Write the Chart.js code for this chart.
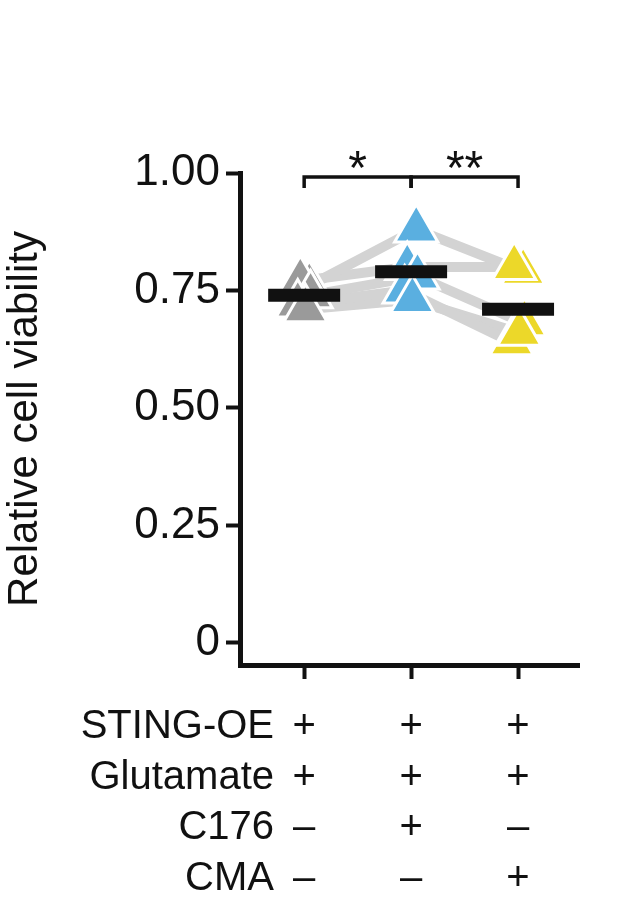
<!DOCTYPE html><html><head><meta charset="utf-8"><script src="https://cdn.jsdelivr.net/npm/chart.js@4"></script>
<style>body{margin:0;background:#fff}</style></head><body><canvas id="c" width="628" height="917"></canvas>
<script>
const groups=[1,2,3];
const rowLabels=["STING-OE","Glutamate","C176","CMA"];
const rowSigns=[["+","+","+"],["+","+","+"],["\u2013","+","\u2013"],["\u2013","\u2013","+"]];
const gray=[0.76,0.77,0.74,0.72,0.71];
const blue=[0.88,0.80,0.78,0.75,0.73];
const yellow=[0.79,0.80,0.68,0.64,0.66];
const jitter=[0.08,-0.06,0.1,-0.1,0.02];
const means=[0.74,0.79,0.71];
const yTicks=[0,0.25,0.5,0.75,1.0];
const F='"Liberation Sans", Arial, sans-serif';
const series=[gray,blue,yellow], cols=['#9a9a9a','#5aafe0','#ecd829'];
const ds=[];
for(let i=0;i<gray.length;i++) ds.push({type:'line',data:series.map((s,g)=>({x:groups[g]+jitter[i]*0.6,y:s[i]})),borderColor:'#d3d3d3',borderWidth:10,pointRadius:0,order:3});
series.forEach((s,g)=>ds.push({type:'scatter',data:s.map((v,i)=>({x:groups[g]+jitter[i]*0.6,y:v})),pointStyle:'triangle',pointRadius:25,backgroundColor:cols[g],borderColor:'#fff',borderWidth:3,order:2}));
ds.push({type:'scatter',data:means.map((v,g)=>({x:groups[g],y:v})),pointStyle:'line',pointRadius:36,borderColor:'#111',borderWidth:13,order:1});
const deco={id:'deco',afterDraw(ch){const c=ch.ctx,x=ch.scales.x;c.save();c.fillStyle='#111';c.font='40px '+F;c.textBaseline='middle';
rowLabels.forEach((l,r)=>{const yy=727+r*50.5;c.textAlign='right';c.fillText(l,274,yy);c.textAlign='center';rowSigns[r].forEach((s,g)=>c.fillText(s,x.getPixelForValue(groups[g]),yy));});
c.strokeStyle='#111';c.lineWidth=3.5;const by=177,h=11;
[[1,2,'*'],[2,3,'**']].forEach(([a,b,t])=>{const xa=x.getPixelForValue(a),xb=x.getPixelForValue(b);c.beginPath();c.moveTo(xa,by+h);c.lineTo(xa,by);c.lineTo(xb,by);c.lineTo(xb,by+h);c.stroke();c.textAlign='center';c.font='48px '+F;c.fillText(t,(xa+xb)/2,by-6);});
c.restore();}};
new Chart(document.getElementById('c'),{data:{datasets:ds},plugins:[deco],options:{responsive:false,animation:false,
layout:{padding:{top:173,bottom:238,right:16}},plugins:{legend:{display:false},tooltip:{enabled:false}},
scales:{x:{type:'linear',min:0.4,max:3.57,afterBuildTicks:s=>{s.ticks=groups.map(v=>({value:v}))},afterFit:s=>{s.height=14},ticks:{display:false},grid:{drawOnChartArea:false,tickLength:14,tickWidth:4,color:'#111'},border:{width:5,color:'#111'}},
y:{min:-0.047,max:1.0,afterBuildTicks:s=>{s.ticks=yTicks.map(v=>({value:v}))},afterFit:s=>{s.width=240},grid:{drawOnChartArea:false,tickLength:14,tickWidth:4,color:'#111'},border:{width:5,color:'#111'},
ticks:{color:'#111',font:{size:44,family:F},padding:6,callback:v=>v===0?'0':v.toFixed(2)},title:{display:true,text:'Relative cell viability',color:'#111',font:{size:42,family:F},padding:0}}}}});
</script></body></html>
